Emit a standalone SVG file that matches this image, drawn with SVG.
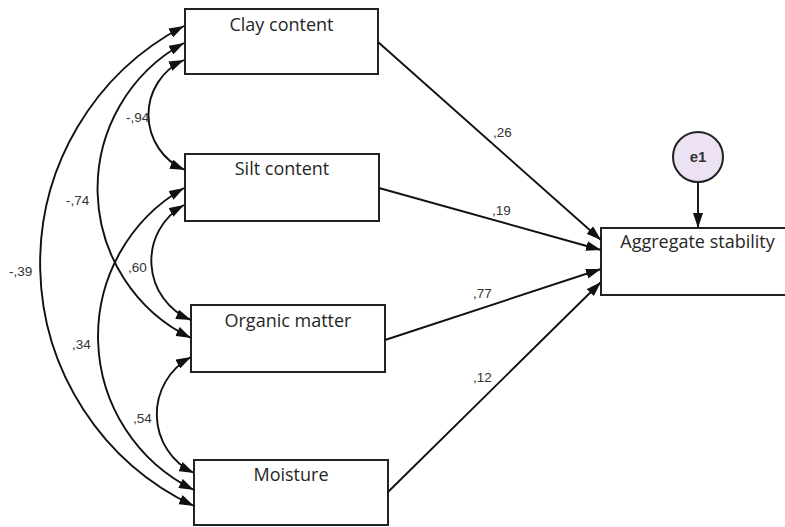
<svg xmlns="http://www.w3.org/2000/svg" width="785" height="527" viewBox="0 0 785 527">
  <defs>
    <marker id="arrow" viewBox="0 0 15 10" refX="15" refY="5" markerWidth="15" markerHeight="10" markerUnits="userSpaceOnUse" orient="auto-start-reverse">
      <path d="M0,0 L15,5 L0,10 z" fill="#111"/>
    </marker>
    <style>
      .box { fill: #fff; stroke: #222; stroke-width: 2; }
      .lbl { font-family: "Open Sans", "Noto Sans", sans-serif; font-size: 18px; fill: #262626; text-anchor: middle; }
      .coef { font-family: "Liberation Sans", Arial, sans-serif; font-size: 13.5px; fill: #333; }
      .path { fill: none; stroke: #111; stroke-width: 1.9; marker-end: url(#arrow); }
      .cov { fill: none; stroke: #111; stroke-width: 1.9; marker-start: url(#arrow); marker-end: url(#arrow); }
    </style>
  </defs>

  <rect width="785" height="527" fill="#fff"/>

  <!-- observed variables -->
  <g id="clay">
    <rect class="box" x="185" y="9" width="193" height="65"/>
    <text class="lbl" x="281.5" y="31">Clay content</text>
  </g>
  <g id="silt">
    <rect class="box" x="185" y="154" width="194" height="67"/>
    <text class="lbl" x="282" y="175">Silt content</text>
  </g>
  <g id="organic">
    <rect class="box" x="191" y="305" width="194" height="67"/>
    <text class="lbl" x="288" y="327">Organic matter</text>
  </g>
  <g id="moisture">
    <rect class="box" x="194" y="460" width="194" height="65"/>
    <text class="lbl" x="291" y="481">Moisture</text>
  </g>
  <g id="aggregate">
    <rect class="box" x="601" y="228" width="200" height="67"/>
    <text class="lbl" x="697.5" y="248">Aggregate stability</text>
  </g>

  <!-- residual -->
  <g id="e1">
    <circle cx="698" cy="157" r="25" fill="#ece2f4" stroke="#222" stroke-width="2"/>
    <text x="698" y="162" font-family="Liberation Sans, Arial, sans-serif" font-size="15" font-weight="bold" fill="#333" text-anchor="middle">e1</text>
  </g>

  <!-- connectors -->
  <g id="connectors">
    <!-- regression paths -->
    <line class="path" x1="378" y1="42" x2="601" y2="240"/>
    <line class="path" x1="379" y1="188" x2="601" y2="250"/>
    <line class="path" x1="385" y1="340" x2="601" y2="269"/>
    <line class="path" x1="388" y1="492" x2="601" y2="282"/>
    <line class="path" x1="698" y1="182" x2="698" y2="228"/>

    <!-- covariances -->
    <path class="cov" d="M184,60 A60,60 0 0 0 185,170"/>
    <path class="cov" d="M184,43 A166,166 0 0 0 191,338"/>
    <path class="cov" d="M184,26 A268,268 0 0 0 194,506"/>
    <path class="cov" d="M184,205 A64,64 0 0 0 191,320"/>
    <path class="cov" d="M184,188 A171,171 0 0 0 194,490"/>
    <path class="cov" d="M191,357 A65,65 0 0 0 194,473"/>
  </g>

  <!-- estimates -->
  <g id="estimates">
    <text class="coef" x="493" y="137">,26</text>
    <text class="coef" x="492" y="215">,19</text>
    <text class="coef" x="473" y="298">,77</text>
    <text class="coef" x="473" y="382">,12</text>
    <text class="coef" x="126" y="122">-,94</text>
    <text class="coef" x="66" y="205">-,74</text>
    <text class="coef" x="9" y="276">-,39</text>
    <text class="coef" x="128" y="272">,60</text>
    <text class="coef" x="72" y="349">,34</text>
    <text class="coef" x="133" y="423">,54</text>
  </g>
</svg>
